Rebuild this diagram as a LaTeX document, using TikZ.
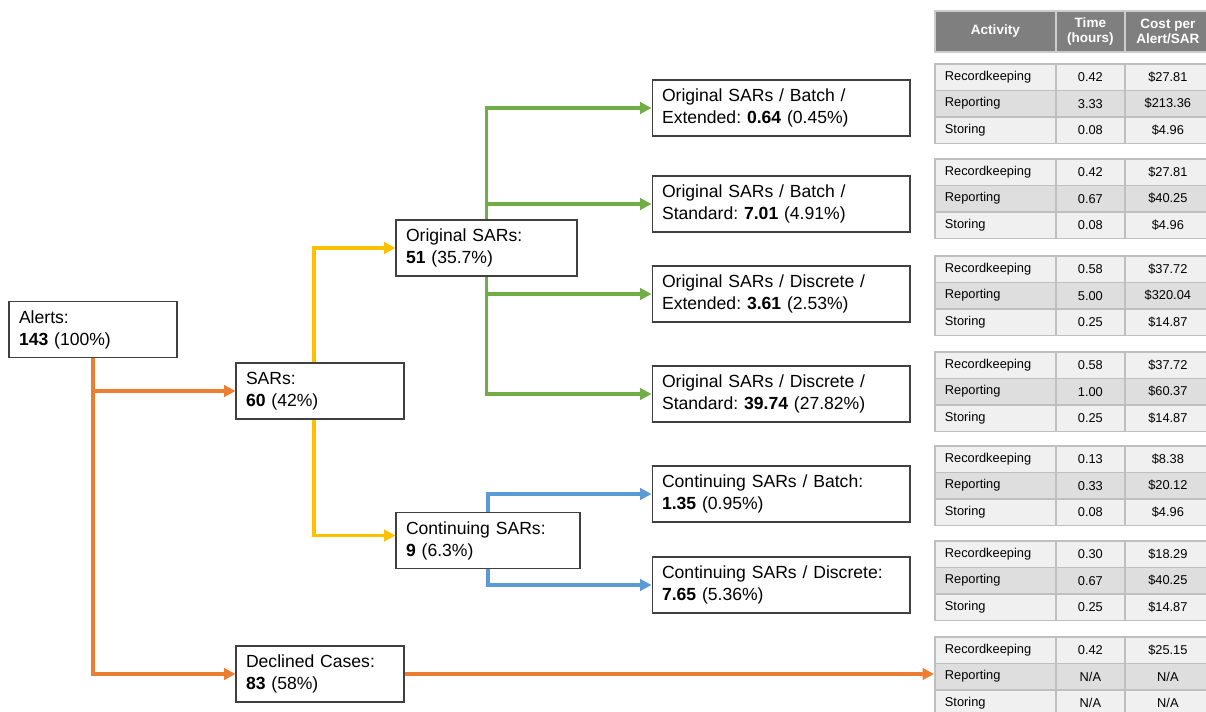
\documentclass[tikz,border=0pt]{standalone}
\usepackage{fontspec}
\setmainfont{Liberation Sans}
\usetikzlibrary{arrows.meta}
\definecolor{flowOrange}{HTML}{ED7D31}
\definecolor{flowYellow}{HTML}{FFC000}
\definecolor{flowGreen}{HTML}{70AD47}
\definecolor{flowBlue}{HTML}{5B9BD5}
\definecolor{rowLight}{HTML}{F0F0F0}
\definecolor{rowDark}{HTML}{DEDEDE}
\definecolor{headGray}{HTML}{7F7F7F}
\frenchspacing

\begin{document}
\begin{tikzpicture}[
        x=0.02cm, y=-0.02cm,
        box/.style={draw=black!75, fill=white, line width=0.6pt, align=left, inner xsep=0.2cm, inner ysep=0pt, minimum height=1.12cm, font=\fontsize{10}{12.5}\selectfont},
        arrow/.style={-{Triangle[length=6.5pt,width=6.5pt]}, line width=1.8pt},
        cell/.style={draw=black!25, line width=1pt, anchor=north west, minimum height=0.53cm, inner xsep=0.2cm, inner ysep=0pt, font=\fontsize{7.3}{8.6}\selectfont},
        headcell/.style={cell, draw=black!20, fill=headGray, text=white, minimum height=0.82cm, align=center, font=\fontsize{7.7}{8.8}\selectfont\bfseries}
      ]
    \useasboundingbox (0,0) rectangle (1206,711);

    \node[box, text width=2.96cm] (alerts) at (93,329.5) {Alerts:\\\textbf{143} (100\%)};
    \node[box, text width=2.96cm] (sars) at (320,391) {SARs:\\\textbf{60} (42\%)};
    \node[box, text width=2.96cm] (declined) at (320,674) {Declined Cases:\\\textbf{83} (58\%)};
    \node[box, text width=3.22cm] (origsars) at (486.5,248) {Original SARs:\\\textbf{51} (35.7\%)};
    \node[box, text width=3.28cm] (contsars) at (488,540.5) {Continuing SARs:\\\textbf{9} (6.3\%)};

    \node[box, text width=4.76cm] (origbatchext) at (781,108) {Original SARs / Batch /\\Extended: \textbf{0.64} (0.45\%)};
    \node[box, text width=4.76cm] (origbatchstd) at (781,204) {Original SARs / Batch /\\Standard: \textbf{7.01} (4.91\%)};
    \node[box, text width=4.76cm] (origdiscext) at (781,294) {Original SARs / Discrete /\\Extended: \textbf{3.61} (2.53\%)};
    \node[box, text width=4.76cm] (origdiscstd) at (781,394) {Original SARs / Discrete /\\Standard: \textbf{39.74} (27.82\%)};
    \node[box, text width=4.76cm] (contbatch) at (781,494) {Continuing SARs / Batch:\\\textbf{1.35} (0.95\%)};
    \node[box, text width=4.76cm] (contdisc) at (781,585) {Continuing SARs / Discrete:\\\textbf{7.65} (5.36\%)};

    % cost tables
    \node[headcell, minimum width=2.42cm] (hdact) at (934,10) {Activity};
    \node[headcell, minimum width=1.38cm] (hdtime) at (1055,10) {Time\\(hours)};
    \node[headcell, minimum width=1.72cm] (hdcost) at (1124,10) {Cost per\\Alert/SAR};
    \foreach \blk/\ytop/\rk/\rkc/\rp/\rpc/\st/\stc in {
        1/63/0.42/\$27.81/3.33/\$213.36/0.08/\$4.96,
        2/158/0.42/\$27.81/0.67/\$40.25/0.08/\$4.96,
        3/255/0.58/\$37.72/5.00/\$320.04/0.25/\$14.87,
        4/351/0.58/\$37.72/1.00/\$60.37/0.25/\$14.87,
        5/445/0.13/\$8.38/0.33/\$20.12/0.08/\$4.96,
        6/540/0.30/\$18.29/0.67/\$40.25/0.25/\$14.87,
        7/636/0.42/\$25.15/{N/A}/{N/A}/{N/A}/{N/A}} {
      \foreach \row/\act/\hrs/\cost/\shade in {0/Recordkeeping/\rk/\rkc/rowLight, 1/Reporting/\rp/\rpc/rowDark, 2/Storing/\st/\stc/rowLight} {
        \node[cell, fill=\shade, text width=2.02cm, align=left] (act-\blk-\row) at (934,\ytop+\row*26.5) {\act};
        \node[cell, fill=\shade, minimum width=1.38cm] (hrs-\blk-\row) at (1055,\ytop+\row*26.5) {\hrs};
        \node[cell, fill=\shade, minimum width=1.72cm] (cost-\blk-\row) at (1124,\ytop+\row*26.5) {\cost};
      }
    }

    \draw[arrow, flowOrange] (alerts.south) |- (declined.west);
    \draw[arrow, flowOrange] (alerts.south |- sars.west) -- (sars.west);
    \draw[arrow, flowOrange] (declined.east) -- (declined.east -| act-7-1.west);

    \draw[arrow, flowYellow] ([xshift=-0.12cm]sars.north) |- (origsars.west);
    \draw[arrow, flowYellow] ([xshift=-0.12cm]sars.south) |- ([yshift=0.1cm]contsars.west);

    \draw[arrow, flowGreen] (origsars.north) |- (origbatchext.west);
    \draw[arrow, flowGreen] (origsars.north |- origbatchstd.west) -- (origbatchstd.west);
    \draw[arrow, flowGreen] (origsars.south) |- (origdiscstd.west);
    \draw[arrow, flowGreen] (origsars.south |- origdiscext.west) -- (origdiscext.west);

    \draw[arrow, flowBlue] (contsars.north) |- (contbatch.west);
    \draw[arrow, flowBlue] (contsars.south) |- (contdisc.west);

    \end{tikzpicture}
\end{document}
